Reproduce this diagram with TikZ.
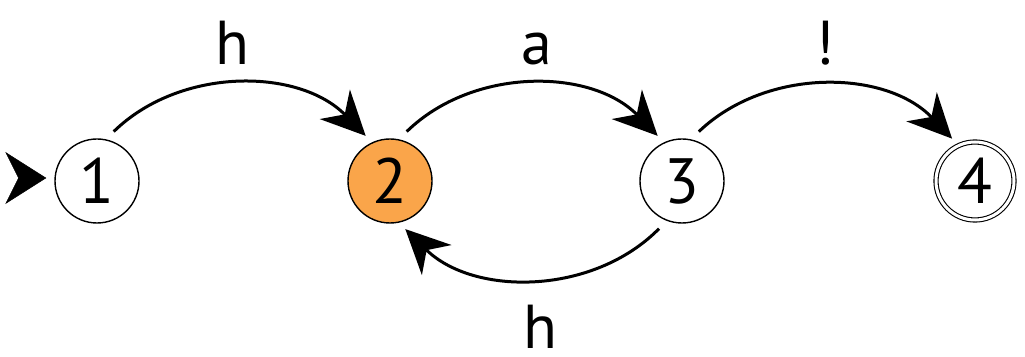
\documentclass[tikz,border=0pt]{standalone}
\usepackage{fontspec}
\setmainfont{PT Sans}
\usetikzlibrary{arrows.meta}
\definecolor{stateorange}{HTML}{FAA54A}
\tikzset{
  state/.style={circle, draw, line width=1.4pt, minimum size=84pt, inner sep=0pt,
    font=\fontsize{64}{64}\selectfont},
  accepting/.style={state, double, double distance=3pt, line width=1.1pt, minimum size=78pt},
  trans/.style={line width=3pt, -{Stealth[length=44pt, width=42pt, inset=14pt]}},
  lbl/.style={font=\fontsize{62}{62}\selectfont, inner sep=0pt, anchor=base}
}
\begin{document}
\begin{tikzpicture}[x=1pt,y=1pt]
\useasboundingbox (0,0) rectangle (1025,356);
\node[state] (n1) at (97,175) {1};
\node[state, fill=stateorange] (n2) at (390,175) {2};
\node[state] (n3) at (682,175) {3};
\node[accepting] (n4) at (975,175) {4};
\coordinate (init) at (6,178);
\draw[-{Stealth[length=41pt, width=52pt, inset=13pt]}, line width=0.5pt, shorten >=8pt, shorten <=12pt] (init) -- ([yshift=3pt]n1.west);
\draw[trans, shorten <=11pt, shorten >=9pt] (n1.78) to[bend left=45] (n2.115);
\draw[trans, shorten <=11pt, shorten >=9pt] (n2.78) to[bend left=45] (n3.115);
\draw[trans, shorten <=11pt, shorten >=9pt] (n3.78) to[bend left=45] (n4.115);
\draw[trans, shorten <=11pt, shorten >=9pt] (n3.-111) to[bend left=45] (n2.-78);
\node[lbl] (l12) at (232,291) {h};
\node[lbl] (l23) at (537,291) {a};
\node[lbl] (l34) at (825,291) {!};
\node[lbl] (l32) at (540,8) {h};
\end{tikzpicture}
\end{document}
